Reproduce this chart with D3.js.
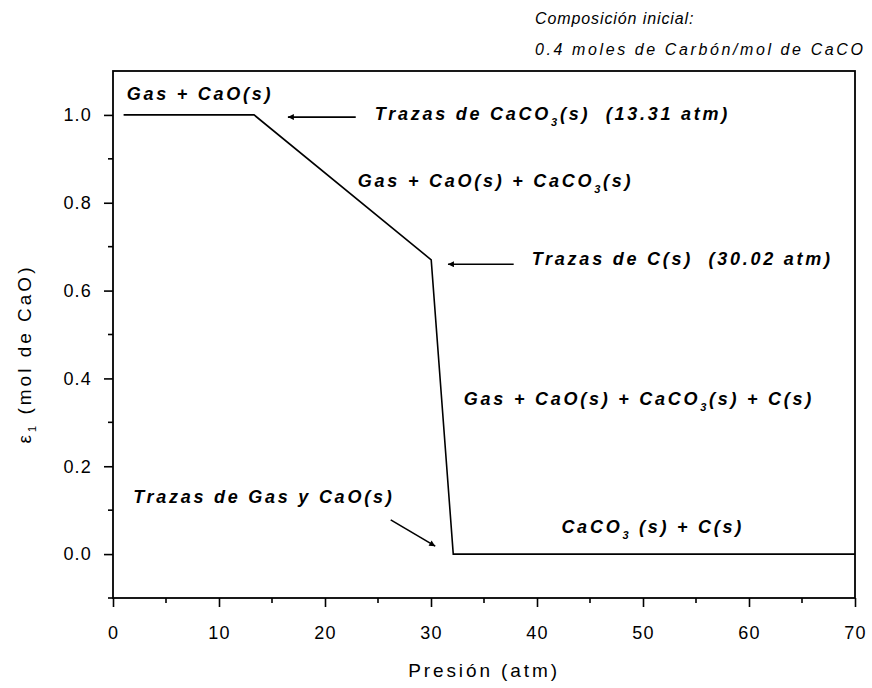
<!DOCTYPE html>
<html>
<head>
<meta charset="utf-8">
<script src="https://cdn.jsdelivr.net/npm/d3@7/dist/d3.min.js"></script>
<style>
  html, body { margin: 0; padding: 0; background: #fff; }
  svg text { font-family: "Liberation Sans", Arial, sans-serif; fill: #000; white-space: pre; }
</style>
</head>
<body>
<svg id="chart" width="872" height="688"></svg>
<script>
// ---- data ----
const pressure = [1, 13.31, 30.02, 32.1, 70];      // atm
const epsilon  = [1.0, 1.0, 0.67, 0.0, 0.0];        // mol de CaO
const xTickValues = [0, 10, 20, 30, 40, 50, 60, 70];
const yTickValues = [0.0, 0.2, 0.4, 0.6, 0.8, 1.0];
const xTitle = "Presión (atm)";
const noteLine1 = "Composición inicial:";
const noteLine2 = "0.4 moles de Carbón/mol de CaCO";

// annotation texts (segments: [text, isSubscript])
const labels = [
  { segs: [["Gas + CaO(s)", 0]], px: 1.3, py: 1.033 },
  { segs: [["Trazas de CaCO", 0], ["3", 1], ["(s)  (13.31 atm)", 0]], px: 24.7, py: 0.988 },
  { segs: [["Gas + CaO(s) + CaCO", 0], ["3", 1], ["(s)", 0]], px: 23.1, py: 0.836 },
  { segs: [["Trazas de C(s)  (30.02 atm)", 0]], px: 39.5, py: 0.658 },
  { segs: [["Gas + CaO(s) + CaCO", 0], ["3", 1], ["(s) + C(s)", 0]], px: 33.1, py: 0.34 },
  { segs: [["Trazas de Gas y CaO(s)", 0]], px: 1.9, py: 0.116 },
  { segs: [["CaCO", 0], ["3", 1], [" (s) + C(s)", 0]], px: 42.3, py: 0.048 }
];
// arrows: [fromP, fromE, toP, toE]
const arrows = [
  [22.9, 0.995, 16.5, 0.995],
  [37.8, 0.66, 31.6, 0.66],
  [26.2, 0.078, 30.4, 0.018]
];

// ---- layout ----
const svg = d3.select("#chart");
const m = { left: 113, right: 855, top: 71, bottom: 598 };
const x = d3.scaleLinear().domain([0, 70]).range([m.left, m.right]);
const y = d3.scaleLinear().domain([-0.1, 1.1]).range([m.bottom, m.top]);

svg.append("defs").append("marker")
  .attr("id", "ah").attr("viewBox", "0 0 10 10")
  .attr("refX", 10).attr("refY", 5)
  .attr("markerWidth", 10).attr("markerHeight", 6)
  .attr("markerUnits", "userSpaceOnUse")
  .attr("orient", "auto")
  .append("path").attr("d", "M0,0 L10,5 L0,10 Z").attr("fill", "#000");

// frame
svg.append("rect")
  .attr("x", m.left).attr("y", m.top)
  .attr("width", m.right - m.left).attr("height", m.bottom - m.top)
  .attr("fill", "none").attr("stroke", "#000").attr("stroke-width", 1.8);

// axes
const xAxis = d3.axisBottom(x).tickValues(xTickValues).tickSize(9).tickPadding(6)
  .tickFormat(d3.format("d"));
const yAxis = d3.axisLeft(y).tickValues(yTickValues).tickSize(9).tickPadding(12)
  .tickFormat(d3.format(".1f"));

const gx = svg.append("g").attr("transform", `translate(0,${m.bottom})`).call(xAxis);
const gy = svg.append("g").attr("transform", `translate(${m.left},0)`).call(yAxis);
[gx, gy].forEach(g => {
  g.select(".domain").remove();
  g.selectAll(".tick line").attr("stroke", "#000").attr("stroke-width", 1.6);
  g.selectAll(".tick text").attr("font-size", 18).attr("letter-spacing", 1.2)
    .attr("font-family", "Liberation Sans, Arial, sans-serif");
});
gx.selectAll(".tick text").attr("dy", "1.45em");
// minor ticks
const xMinor = d3.range(5, 70, 10);
const yMinor = [-0.1, 0.1, 0.3, 0.5, 0.7, 0.9];
svg.append("g").selectAll("line").data(xMinor).join("line")
  .attr("x1", d => x(d)).attr("x2", d => x(d))
  .attr("y1", m.bottom).attr("y2", m.bottom + 5)
  .attr("stroke", "#000").attr("stroke-width", 1.6);
svg.append("g").selectAll("line").data(yMinor).join("line")
  .attr("x1", m.left).attr("x2", m.left - 5)
  .attr("y1", d => y(d)).attr("y2", d => y(d))
  .attr("stroke", "#000").attr("stroke-width", 1.6);

// curve
const pts = pressure.map((p, i) => [p, epsilon[i]]);
svg.append("path")
  .datum(pts)
  .attr("fill", "none").attr("stroke", "#000").attr("stroke-width", 1.6)
  .attr("d", d3.line().x(d => x(d[0])).y(d => y(d[1])));

// arrows
svg.append("g").selectAll("line").data(arrows).join("line")
  .attr("x1", d => x(d[0])).attr("y1", d => y(d[1]))
  .attr("x2", d => x(d[2])).attr("y2", d => y(d[3]))
  .attr("stroke", "#000").attr("stroke-width", 1.6)
  .attr("marker-end", "url(#ah)");

// annotations
labels.forEach(l => {
  const t = svg.append("text")
    .attr("x", x(l.px)).attr("y", y(l.py))
    .attr("font-size", 18).attr("font-weight", "bold").attr("font-style", "italic")
    .attr("letter-spacing", 2.75);
  l.segs.forEach(([s, sub]) => {
    const ts = t.append("tspan").text(s);
    if (sub) ts.attr("font-size", 11).attr("dy", 6);
    else if (t.selectAll("tspan").size() > 1) ts.attr("dy", -6);
  });
});

// top-right note
svg.append("text").attr("x", 535).attr("y", 24)
  .attr("font-size", 16).attr("font-style", "italic").attr("letter-spacing", 0.9)
  .text(noteLine1);
svg.append("text").attr("x", 535).attr("y", 55)
  .attr("font-size", 16).attr("font-style", "italic").attr("letter-spacing", 2.6)
  .text(noteLine2);

// axis titles
svg.append("text")
  .attr("x", (m.left + m.right) / 2).attr("y", 677)
  .attr("text-anchor", "middle").attr("font-size", 19).attr("letter-spacing", 2.9)
  .text(xTitle);

const yt = svg.append("text")
  .attr("transform", `translate(31,354) rotate(-90)`)
  .attr("text-anchor", "middle").attr("font-size", 19).attr("letter-spacing", 3);
yt.append("tspan").text("ε");
yt.append("tspan").text("1").attr("font-size", 11).attr("dy", 5);
yt.append("tspan").text(" (mol de CaO)").attr("dy", -5);
</script>
</body>
</html>
